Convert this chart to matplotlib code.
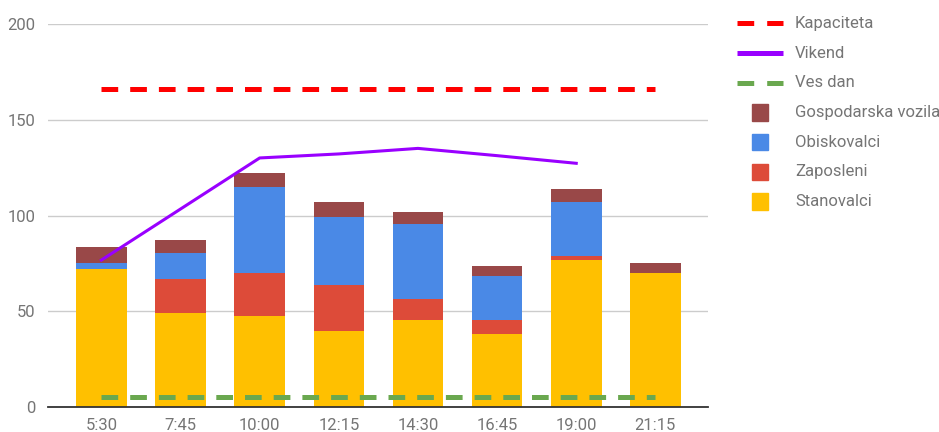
import matplotlib
matplotlib.use("Agg")
import matplotlib.pyplot as plt
import numpy as np
from matplotlib.lines import Line2D
from matplotlib.patches import Rectangle

plt.rcParams['font.family'] = ['Roboto', 'DejaVu Sans']

categories = ["5:30", "7:45", "10:00", "12:15", "14:30", "16:45", "19:00", "21:15"]
stanovalci = [72, 49, 47.6, 39.6, 45.3, 38, 76.7, 70]
zaposleni = [0, 18, 22.2, 23.9, 11, 7.3, 2.3, 0]
obiskovalci = [3.3, 13.4, 44.9, 35.6, 39.4, 23.1, 28.1, 0]
gospodarska = [8, 7, 7.4, 7.8, 6.3, 5.3, 6.8, 5.3]
vikend = [76.7, 103.4, 130.1, 132.2, 135.1, 131.3, 127.3, np.nan]
kapaciteta = [166] * 8
ves_dan = [5] * 8

c_stan = "#FFC000"
c_zap = "#DD4B39"
c_obis = "#4A89E6"
c_gosp = "#994848"
c_vik = "#9900FF"
c_kap = "#FF0000"
c_ves = "#6AA84F"

W, H = 939, 432
fig = plt.figure(figsize=(W / 100, H / 100), dpi=100)
ax = fig.add_axes([48 / W, 1 - 406.7 / H, (708 - 48) / W, (406.7 - 24.3) / H])

x = np.arange(len(categories))
bw = 0.64
b0 = np.zeros(len(x))
for vals, col in [(stanovalci, c_stan), (zaposleni, c_zap), (obiskovalci, c_obis), (gospodarska, c_gosp)]:
    ax.bar(x, vals, bw, bottom=b0, color=col, zorder=2, linewidth=0)
    b0 = b0 + np.array(vals)

ax.plot(x, kapaciteta, color=c_kap, lw=3.6, dashes=(3.34, 2.4), dash_capstyle='butt', zorder=4)
ax.plot(x, vikend, color=c_vik, lw=2.2, zorder=4)
ax.plot(x, ves_dan, color=c_ves, lw=3.6, dashes=(3.34, 2.4), dash_capstyle='butt', zorder=4)

ax.set_xlim(-0.675, 7.665)
ax.set_ylim(0, 200)
ax.set_yticks([0, 50, 100, 150, 200])
ax.set_xticks(x)
ax.set_xticklabels(categories)
ax.grid(axis='y', color='#cccccc', lw=1, zorder=0)
ax.set_axisbelow(True)
for s in ['top', 'right', 'left']:
    ax.spines[s].set_visible(False)
ax.spines['bottom'].set_color('#333333')
ax.spines['bottom'].set_linewidth(1.3)
ax.spines['bottom'].set_zorder(5)
ax.tick_params(axis='both', length=0, labelsize=12, labelcolor='#757575')
ax.tick_params(axis='y', pad=9)
ax.tick_params(axis='x', pad=8)

# Legend (drawn manually in figure pixel coordinates)
def fx(px):
    return px / W

def fy(py):
    return 1 - py / H

rows = [("Kapaciteta", 'dash', c_kap), ("Vikend", 'line', c_vik), ("Ves dan", 'dash', c_ves),
        ("Gospodarska vozila", 'sq', c_gosp), ("Obiskovalci", 'sq', c_obis),
        ("Zaposleni", 'sq', c_zap), ("Stanovalci", 'sq', c_stan)]
y0 = 23.3
dy = 29.7
for i, (lab, kind, col) in enumerate(rows):
    yy = y0 + i * dy
    if kind == 'dash':
        fig.add_artist(Line2D([fx(736.7), fx(783.3)], [fy(yy), fy(yy)], color=col, lw=3.6,
                              dashes=(3.34, 2.6), dash_capstyle='butt'))
    elif kind == 'line':
        fig.add_artist(Line2D([fx(736.7), fx(783.3)], [fy(yy), fy(yy)], color=col, lw=3.6,
                              solid_capstyle='butt'))
    else:
        fig.add_artist(Rectangle((fx(751.7), fy(yy + 8.3)), 16.6 / W, 16.6 / H, color=col,
                                 transform=fig.transFigure))
    fig.text(fx(795), fy(yy), lab, fontsize=12, color='#757575', va='center', ha='left')

fig.savefig("out.png", dpi=100)
